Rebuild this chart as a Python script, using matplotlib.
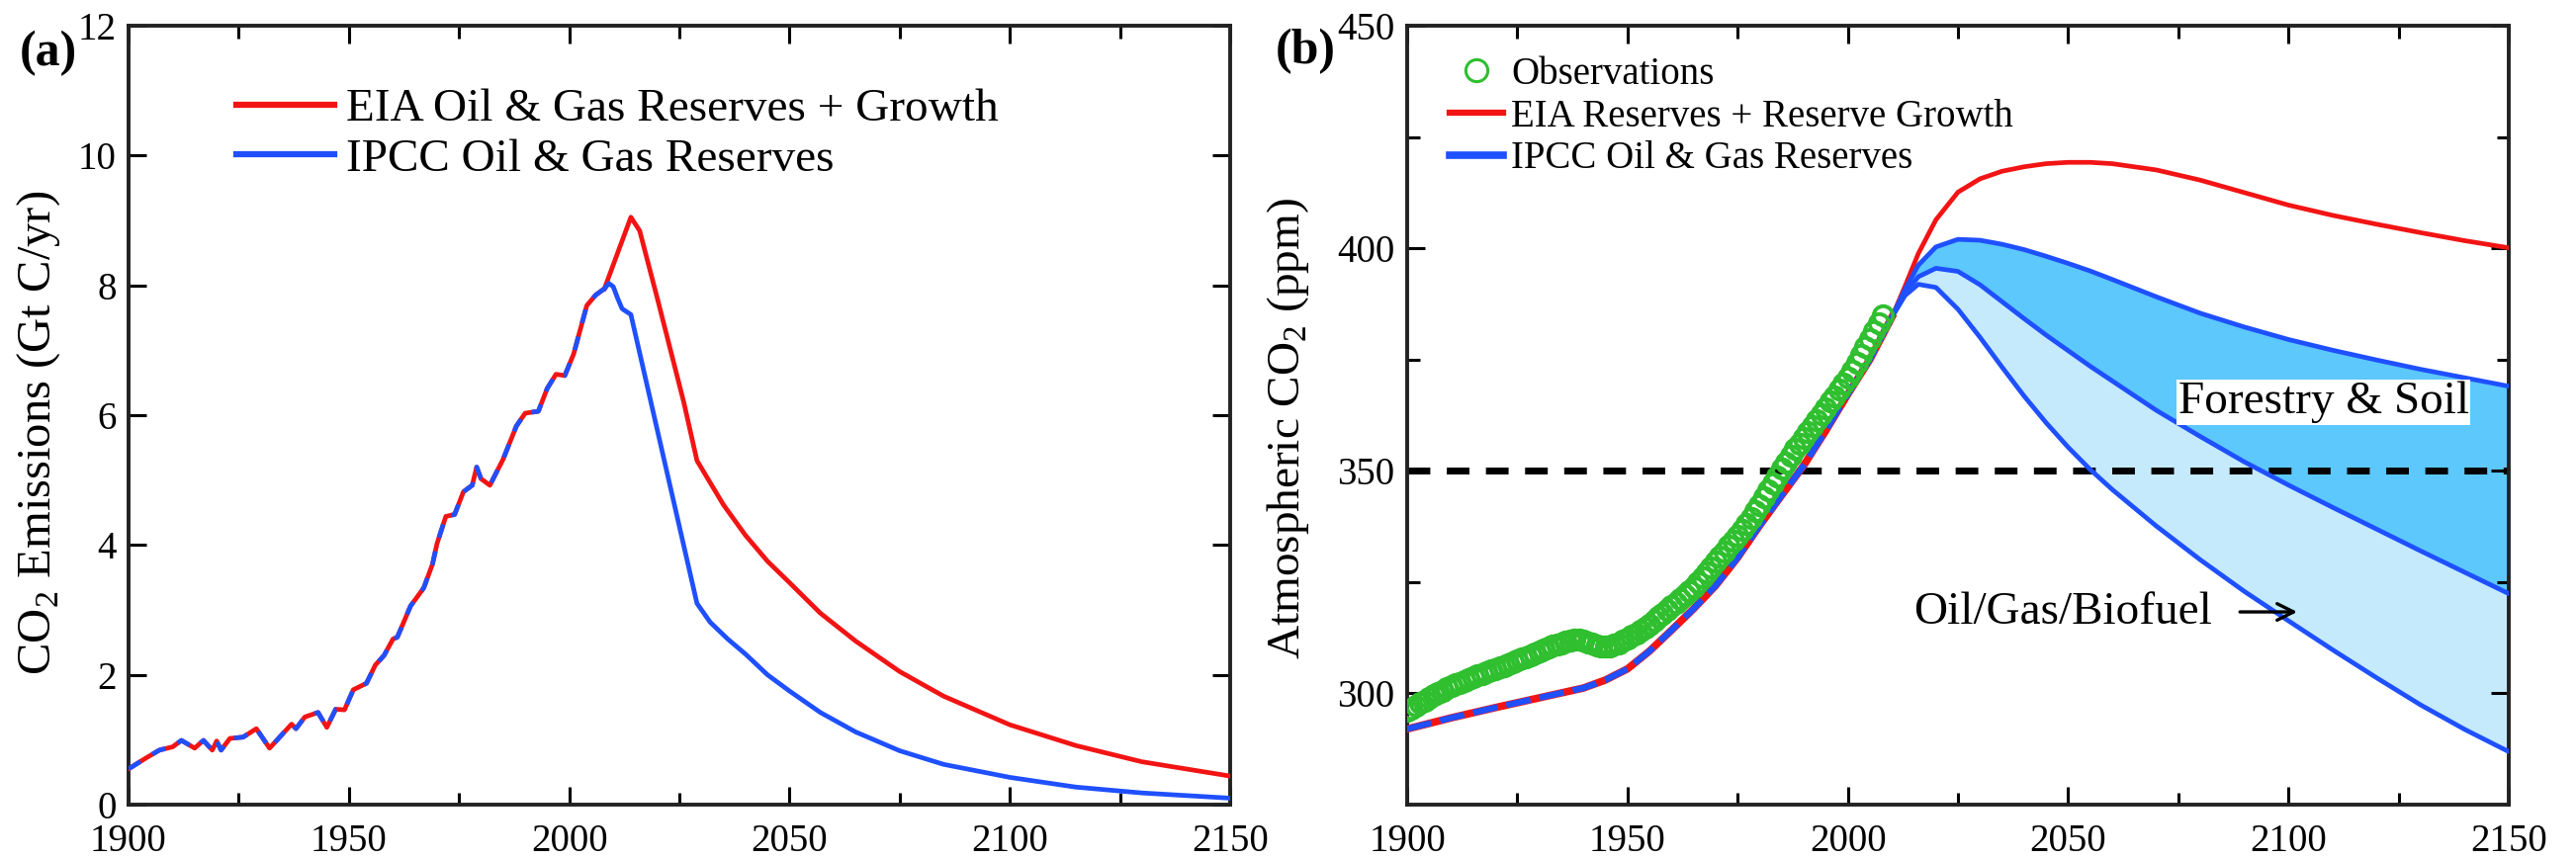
import numpy as np
import matplotlib
matplotlib.use('Agg')
import matplotlib.pyplot as plt
import matplotlib.lines as mlines

plt.rcParams['font.family'] = ['Liberation Serif', 'DejaVu Serif']
plt.rcParams['mathtext.fontset'] = 'custom'
plt.rcParams['mathtext.rm'] = 'Liberation Serif'

# Panel (a): CO2 emissions from oil & gas (Gt C/yr)
hist_years_a = [1900, 1904, 1907, 1910, 1912, 1915, 1917, 1919, 1920, 1921, 1923, 1926,
                1929, 1932, 1937, 1938, 1940, 1943, 1945, 1947, 1949, 1951, 1954, 1956,
                1958, 1960, 1961, 1964, 1967, 1969, 1970, 1972, 1974, 1976, 1978, 1979,
                1980, 1982, 1985, 1988, 1990, 1993, 1995, 1997, 1999, 2001, 2003, 2004,
                2006, 2008]
hist_emis_a = [0.55, 0.72, 0.84, 0.89, 0.99, 0.87, 0.99, 0.84, 0.98, 0.84, 1.02, 1.04,
               1.17, 0.87, 1.24, 1.17, 1.35, 1.42, 1.19, 1.47, 1.46, 1.77, 1.87, 2.15,
               2.30, 2.55, 2.58, 3.06, 3.34, 3.71, 4.02, 4.44, 4.47, 4.82, 4.92, 5.20,
               5.02, 4.92, 5.32, 5.83, 6.03, 6.06, 6.41, 6.63, 6.61, 6.94, 7.44, 7.69,
               7.85, 7.95]

eia_years_a = [2008, 2011, 2014, 2016, 2020, 2023, 2026, 2029, 2035, 2040, 2045, 2050,
               2057, 2065, 2075, 2085, 2100, 2115, 2130, 2150]
eia_emis_a = [7.95, 8.50, 9.05, 8.84, 7.80, 7.00, 6.20, 5.30, 4.62, 4.15, 3.75, 3.42,
              2.95, 2.52, 2.05, 1.67, 1.23, 0.91, 0.66, 0.44]

ipcc_years_a = [2008, 2009, 2010, 2011, 2012, 2014, 2029, 2032, 2036, 2040, 2045, 2050,
                2057, 2065, 2075, 2085, 2100, 2115, 2130, 2150]
ipcc_emis_a = [7.95, 8.03, 7.98, 7.80, 7.64, 7.55, 3.10, 2.81, 2.55, 2.32, 2.00, 1.75,
               1.42, 1.12, 0.83, 0.62, 0.42, 0.27, 0.18, 0.10]

# Panel (b): atmospheric CO2 (ppm)
obs_years = list(range(1900, 2009))
obs_co2 = [296.0, 296.6, 297.2, 297.8, 298.4, 299.0, 299.6, 300.1, 300.6, 301.1,
           301.6, 302.0, 302.4, 302.8, 303.2, 303.6, 304.0, 304.4, 304.8, 305.1,
           305.4, 305.8, 306.2, 306.6, 307.0, 307.4, 307.8, 308.2, 308.6, 309.0,
           309.5, 309.9, 310.3, 310.7, 311.0, 311.3, 311.6, 311.9, 312.1, 312.1,
           311.9, 311.5, 311.1, 310.8, 310.6, 310.5, 310.6, 310.9, 311.3, 311.8,
           312.3, 312.9, 313.5, 314.1, 314.8, 315.5, 316.3, 317.1, 317.9, 318.7,
           319.6, 320.4, 321.2, 322.0, 322.9, 323.8, 324.9, 326.0, 327.1, 328.3,
           329.6, 330.7, 331.9, 333.1, 334.2, 335.4, 336.7, 338.1, 339.5, 340.9,
           342.4, 344.0, 345.6, 347.2, 348.8, 350.4, 351.9, 353.4, 354.9, 356.1,
           357.4, 358.7, 360.0, 361.3, 362.7, 364.1, 365.5, 366.8, 368.2, 369.6,
           371.0, 372.6, 374.3, 376.0, 377.8, 379.5, 381.3, 383.1, 385.0]

hist_years_b = [1900, 1910, 1920, 1930, 1940, 1945, 1950, 1955, 1960, 1965, 1970, 1975,
                1980, 1985, 1990, 1995, 2000, 2005, 2010]
hist_co2_b = [292.0, 294.5, 296.8, 299.0, 301.2, 303.0, 305.5, 309.5, 314.2, 319.0,
              324.2, 330.5, 337.7, 344.5, 351.2, 359.0, 367.2, 375.0, 384.5]

fut_years_b = [2010, 2013, 2016, 2020, 2025, 2030, 2035, 2040, 2045, 2050, 2055, 2060,
               2070, 2080, 2090, 2100, 2110, 2120, 2130, 2140, 2150]
eia_co2_b = [384.5, 391.5, 398.8, 406.4, 412.6, 415.6, 417.3, 418.3, 419.0, 419.3,
             419.3, 419.0, 417.6, 415.3, 412.5, 409.7, 407.4, 405.4, 403.5, 401.7, 400.1]
ipcc_co2_b = [384.5, 390.8, 396.2, 400.3, 402.0, 401.8, 400.9, 399.7, 398.2, 396.6,
              394.9, 393.0, 389.1, 385.4, 382.3, 379.5, 377.1, 374.9, 372.8, 370.9, 369.0]
forest_co2_b = [384.5, 390.0, 393.6, 395.5, 394.8, 391.8, 388.0, 384.2, 380.5, 377.0,
                373.5, 370.2, 363.6, 357.7, 352.0, 346.8, 341.8, 336.9, 332.0, 327.2, 322.4]
biofuel_co2_b = [384.5, 389.4, 391.9, 391.2, 386.3, 380.0, 373.3, 366.8, 360.8, 355.3,
                 350.3, 345.8, 337.6, 330.0, 322.9, 316.3, 309.8, 303.5, 297.4, 291.9, 286.9]
target_ppm = 350

RED = '#f21414'
BLUE = '#1f50ff'
GREEN = '#2fbf2f'
DARK_FILL = '#5cc8fb'
LIGHT_FILL = '#c4eafc'

fig = plt.figure(figsize=(26.05, 8.69), dpi=100)
ax1 = fig.add_axes([130 / 2605, 55 / 869, 1114 / 2605, 788 / 869])
ax2 = fig.add_axes([1423 / 2605, 55 / 869, 1114 / 2605, 788 / 869])

# Panel (a)
ax1.plot(hist_years_a, hist_emis_a, color=RED, lw=3.4, zorder=3)
ax1.plot(hist_years_a, hist_emis_a, color=BLUE, lw=3.4, dashes=(3, 3), zorder=4)
ax1.plot(eia_years_a, eia_emis_a, color=RED, lw=3.4, zorder=3)
ax1.plot(ipcc_years_a, ipcc_emis_a, color=BLUE, lw=3.4, zorder=3)

ax1.set_xlim(1900, 2150)
ax1.set_ylim(0, 12)
ax1.set_yticks(np.arange(0, 13, 2))
ax1.set_ylabel(r'CO$_2$ Emissions (Gt C/yr)', fontsize=35)
ax1.yaxis.set_label_coords(-0.06, 0.477)

ax1.legend([mlines.Line2D([], [], color=RED, lw=4.5),
            mlines.Line2D([], [], color=BLUE, lw=4.5)],
           ['EIA Oil & Gas Reserves + Growth', 'IPCC Oil & Gas Reserves'],
           loc='upper left', bbox_to_anchor=(0.098, 0.92), frameon=False,
           fontsize=34, handlelength=2.1, handletextpad=0.25,
           labelspacing=0.16, borderpad=0, borderaxespad=0)

# Panel (b)
ax2.fill_between(fut_years_b, ipcc_co2_b, forest_co2_b, color=DARK_FILL, lw=0, zorder=1)
ax2.fill_between(fut_years_b, forest_co2_b, biofuel_co2_b, color=LIGHT_FILL, lw=0, zorder=1)
ax2.axhline(target_ppm, color='black', lw=5, dashes=(3.3, 2.4), zorder=2)
ax2.plot(hist_years_b, hist_co2_b, color=RED, lw=5.5, zorder=3)
ax2.plot(hist_years_b, hist_co2_b, color=BLUE, lw=4.5, dashes=(4, 1.5), zorder=4)
ax2.plot(fut_years_b, eia_co2_b, color=RED, lw=3.4, zorder=3)
ax2.plot(fut_years_b, ipcc_co2_b, color=BLUE, lw=3.4, zorder=3)
ax2.plot(fut_years_b, forest_co2_b, color=BLUE, lw=3.4, zorder=3)
ax2.plot(fut_years_b, biofuel_co2_b, color=BLUE, lw=3.4, zorder=3)
ax2.plot(obs_years, obs_co2, linestyle='None', marker='o', markersize=14,
         markerfacecolor='none', markeredgecolor=GREEN, markeredgewidth=2.8, zorder=5)

ax2.text(2075, 365.4, 'Forestry & Soil', fontsize=34, ha='left', va='center',
         bbox=dict(facecolor='white', edgecolor='none', pad=1), zorder=6)
ax2.text(2015, 318.1, 'Oil/Gas/Biofuel', fontsize=34, ha='left', va='center', zorder=6)
ax2.annotate('', xy=(2102, 318.3), xytext=(2089, 318.3),
             arrowprops=dict(arrowstyle='->', color='black', lw=2.4,
                             mutation_scale=30, shrinkA=0, shrinkB=0), zorder=6)

ax2.set_xlim(1900, 2150)
ax2.set_ylim(275, 450)
ax2.set_yticks([300, 350, 400, 450])
ax2.set_yticks([325, 375, 425], minor=True)
ax2.set_ylabel(r'Atmospheric CO$_2$ (ppm)', fontsize=34)
ax2.yaxis.set_label_coords(-0.087, 0.483)

ax2.legend([mlines.Line2D([], [], linestyle='None', marker='o', markersize=16,
                          markerfacecolor='none', markeredgecolor=GREEN,
                          markeredgewidth=2.2),
            mlines.Line2D([], [], color=RED, lw=4.5),
            mlines.Line2D([], [], color=BLUE, lw=5.5)],
           ['Observations', 'EIA Reserves + Reserve Growth', 'IPCC Oil & Gas Reserves'],
           loc='upper left', bbox_to_anchor=(0.0386, 0.961), frameon=False,
           fontsize=28, handlelength=1.4, handletextpad=0.2,
           labelspacing=0.15, borderpad=0, borderaxespad=0)

# Common axis styling
for ax in (ax1, ax2):
    ax.set_xticks(np.arange(1900, 2151, 50))
    ax.set_xticks(np.arange(1925, 2150, 50), minor=True)
    ax.tick_params(which='both', direction='in', top=True, right=True, width=2.2,
                   labelsize=28)
    ax.tick_params(axis='y', which='both', pad=9)
    ax.tick_params(axis='x', which='both', pad=14)
    ax.tick_params(which='major', length=13)
    ax.tick_params(which='minor', length=9)
    for sp in ax.spines.values():
        sp.set_linewidth(2.8)
        sp.set_color('#222222')

fig.text(20 / 2605, 1 - 54 / 869, '(a)', fontsize=36, fontweight='bold', ha='left', va='center')
fig.text(1290 / 2605, 1 - 52 / 869, '(b)', fontsize=36, fontweight='bold', ha='left', va='center')

fig.savefig('out.png', dpi=100)
